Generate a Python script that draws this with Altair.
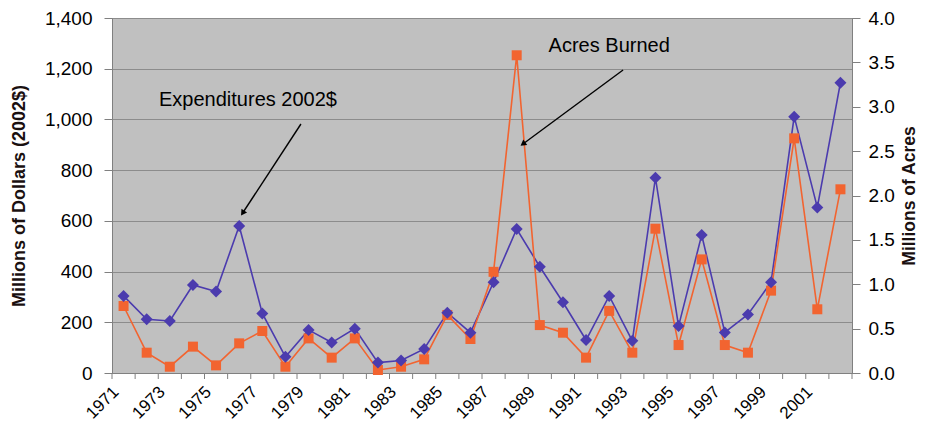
import math
import altair as alt
import pandas as pd

years = list(range(1971, 2003))
expenditures = [304, 212, 205, 347, 321, 580, 235, 64, 170, 120, 175, 41, 49, 95,
                238, 159, 358, 568, 419, 279, 130, 304, 127, 770, 185, 544, 160, 231,
                358, 1011, 653, 1145]
acres = [0.755, 0.229, 0.071, 0.297, 0.086, 0.334, 0.473, 0.071, 0.39, 0.173, 0.39,
         0.034, 0.071, 0.154, 0.654, 0.383, 1.14, 3.58, 0.54, 0.454, 0.173, 0.70,
         0.229, 1.626, 0.315, 1.28, 0.315, 0.229, 0.928, 2.644, 0.718, 2.07]
label_years = list(range(1971, 2002, 2))
left_ticks = list(range(0, 1401, 200))
right_ticks = [0.0, 0.5, 1.0, 1.5, 2.0, 2.5, 3.0, 3.5, 4.0]

ann_text = ["Expenditures 2002$", "Acres Burned"]
ann_text_x = [1976.38, 1992.0]
ann_text_y = [1077, 1290]
arrow_x1 = [1978.67, 1992.6]
arrow_y1 = [982, 1195]
arrow_x2 = [1976.15, 1988.27]
arrow_y2 = [631, 903]

W, H = 740, 355
XDOM = [1970.5, 2002.5]
PURPLE = "#4B3BAE"
ORANGE = "#F26430"
FONT = "Liberation Sans"

df = pd.DataFrame({"year": years, "expend": expenditures, "acres": acres})

# arrowhead angles derived from the pixel geometry of each arrow
angles = []
for xa, ya, xb, yb in zip(arrow_x1, arrow_y1, arrow_x2, arrow_y2):
    dx = (xb - xa) * W / (XDOM[1] - XDOM[0])
    dy = -(yb - ya) * H / 1400
    angles.append(math.degrees(math.atan2(dx, -dy)) % 360)

ann_df = pd.DataFrame({"t": ann_text, "tx": ann_text_x, "ty": ann_text_y})
arr_df = pd.DataFrame({"x1": arrow_x1, "y1": arrow_y1, "x2": arrow_x2,
                       "y2": arrow_y2, "ang": angles})
bounds_df = pd.DataFrame({"b": [y - 0.5 for y in years] + [years[-1] + 0.5]})


def X(field):
    return alt.X(field, scale=alt.Scale(domain=XDOM, nice=False, zero=False),
                 axis=alt.Axis(values=label_years, format="d", labelAngle=-45,
                               labelAlign="right", labelBaseline="middle",
                               labelOffset=-8, tickSize=0, grid=False, title=None,
                               labelFontSize=17, labelFont=FONT, labelColor="black",
                               domainColor="#808080", labelPadding=16,
                               labelFlush=False, labelOverlap=False))


def lscale():
    return alt.Scale(domain=[0, 1400], nice=False)


def rscale():
    return alt.Scale(domain=[0, 4], nice=False)


base = alt.Chart(df)

exp_line = base.mark_line(color=PURPLE, strokeWidth=1.6).encode(
    x=X("year:Q"),
    y=alt.Y("expend:Q", scale=lscale(),
            axis=alt.Axis(values=left_ticks, format=",.0f",
                          title="Millions of Dollars (2002$)",
                          titleFontSize=18, titleFont=FONT, titleFontWeight="bold",
                          titleColor="#1a1010", labelFontSize=19, labelFont=FONT,
                          labelColor="black", tickSize=8, tickColor="#808080",
                          domainColor="#808080", labelPadding=12, titlePadding=16,
                          grid=True, gridColor="#8c8c8c", gridWidth=1)),
)
exp_pts = base.mark_point(shape="diamond", filled=True, size=144, color=PURPLE,
                          opacity=1).encode(
    x=X("year:Q"),
    y=alt.Y("expend:Q", scale=lscale(), axis=None),
)

ticks = alt.Chart(bounds_df).mark_rule(color="#808080", strokeWidth=1).encode(
    x=X("b:Q"),
    y=alt.value(H),
    y2=alt.value(H + 6),
)

arrows = alt.Chart(arr_df).mark_rule(color="black", strokeWidth=1.4).encode(
    x=X("x1:Q"),
    y=alt.Y("y1:Q", scale=lscale(), axis=None),
    x2="x2:Q",
    y2="y2:Q",
)
heads = alt.Chart(arr_df).mark_point(shape="triangle-up", filled=True, size=45,
                                     color="black", opacity=1).encode(
    x=X("x2:Q"),
    y=alt.Y("y2:Q", scale=lscale(), axis=None),
    angle=alt.Angle("ang:Q", scale=None),
)
texts = alt.Chart(ann_df).mark_text(fontSize=20, font=FONT, color="black").encode(
    x=X("tx:Q"),
    y=alt.Y("ty:Q", scale=lscale(), axis=None),
    text="t:N",
)

acr_line = base.mark_line(color=ORANGE, strokeWidth=1.6).encode(
    x=X("year:Q"),
    y=alt.Y("acres:Q", scale=rscale(),
            axis=alt.Axis(orient="right", values=right_ticks, format=".1f",
                          title="Millions of Acres", titleFontSize=17.5, titleFont=FONT,
                          titleFontWeight="bold", titleColor="#1a1010", titleAngle=270,
                          titleBaseline="top",
                          labelFontSize=19, labelFont=FONT, labelColor="black",
                          tickSize=8, tickColor="#808080", domainColor="#808080",
                          labelPadding=8, titlePadding=6, grid=False)),
)
acr_pts = base.mark_point(shape="square", filled=True, size=100, color=ORANGE,
                          opacity=1).encode(
    x=X("year:Q"),
    y=alt.Y("acres:Q", scale=rscale(), axis=None),
)

chart = alt.layer(
    exp_line, acr_line, ticks, arrows, heads, texts, acr_pts, exp_pts
).resolve_scale(y="independent").properties(
    width=W, height=H,
    autosize=alt.AutoSizeParams(type="none"),
    padding={"left": 104, "top": 10, "right": 66, "bottom": 54},
).configure_view(fill="#C0C0C0", stroke="#808080", strokeWidth=1)

chart.save("out.html", embed_options={"renderer": "svg", "actions": False})
